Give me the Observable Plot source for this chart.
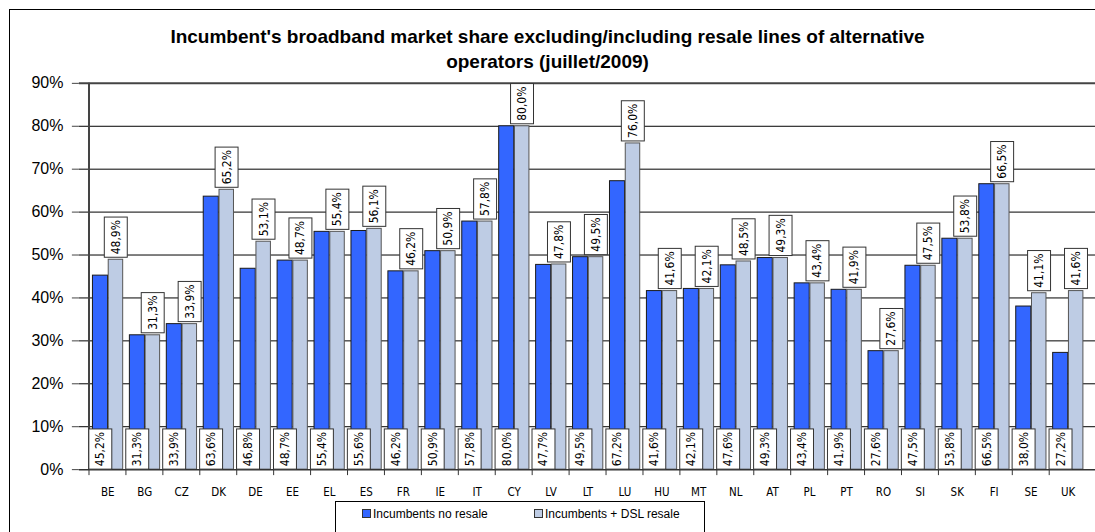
<!DOCTYPE html>
<html>
<head>
<meta charset="utf-8">
<script src="https://cdn.jsdelivr.net/npm/d3@7"></script>
<script src="https://cdn.jsdelivr.net/npm/@observablehq/plot@0.6"></script>
<style>
  html, body { margin: 0; padding: 0; background: #fff; overflow: hidden; }
  #wrap { position: relative; width: 1095px; height: 532px; overflow: hidden; font-family: "Liberation Sans", Arial, sans-serif; }
  #border { position: absolute; left: 9px; top: 9px; width: 1100px; height: 540px; border-left: 1.5px solid #000; border-top: 1.5px solid #000; }
  #title { position: absolute; left: 0; top: 24px; width: 1095px; text-align: center; font-weight: bold; font-size: 19px; line-height: 25px; color: #000; }
  #chart { position: absolute; left: 0; top: 0; }
  #legend { position: absolute; left: 335px; top: 501px; width: 368px; height: 50px; border: 1px solid #000; background: #fff; }
  .item { position: absolute; top: 5px; font-size: 12px; line-height: 14px; white-space: nowrap; }
  .sw { display: inline-block; width: 7px; height: 7px; border: 1px solid #333; margin-right: 2px; vertical-align: 0px; }
</style>
</head>
<body>
<div id="wrap">
  <div id="border"></div>
  <div id="chart"></div>
  <div id="title">Incumbent's broadband market share excluding/including resale lines of alternative<br>operators (juillet/2009)</div>
  <div id="legend"></div>
</div>
<script>
const countries = ["BE","BG","CZ","DK","DE","EE","EL","ES","FR","IE","IT","CY","LV","LT","LU","HU","MT","NL","AT","PL","PT","RO","SI","SK","FI","SE","UK"];
const noResale = [45.2,31.3,33.9,63.6,46.8,48.7,55.4,55.6,46.2,50.9,57.8,80.0,47.7,49.5,67.2,41.6,42.1,47.6,49.3,43.4,41.9,27.6,47.5,53.8,66.5,38.0,27.2];
const withResale = [48.9,31.3,33.9,65.2,53.1,48.7,55.4,56.1,46.2,50.9,57.8,80.0,47.8,49.5,76.0,41.6,42.1,48.5,49.3,43.4,41.9,27.6,47.5,53.8,66.5,41.1,41.6];
const seriesNames = ["Incumbents no resale", "Incumbents + DSL resale"];
const seriesColors = ["#3366FF", "#BECCE4"];
const yTicks = [0,10,20,30,40,50,60,70,80,90];

const rows = countries.map((c, i) => ({country: c, a: noResale[i], b: withResale[i]}));
const fmt = v => v.toFixed(1).replace(".", ",") + "%";

const narrow = "'Liberation Sans Narrow', 'DejaVu Sans Condensed', 'Liberation Sans', sans-serif";
const W = 1097, ML = 79, MR = 0;
const bw = (W - ML - MR) / countries.length;
const blueL = 3.6, blueR = bw - 19.4, lightL = 19.4, lightR = bw - 34.6;
const blueC = (blueL + (bw - blueR)) / 2 - bw / 2;
const lightC = (lightL + (bw - lightR)) / 2 - bw / 2;

const chart = Plot.plot({
  width: W, height: 532,
  marginTop: 83, marginBottom: 62, marginLeft: ML, marginRight: MR,
  x: {domain: countries, padding: 0, label: null},
  y: {domain: [0, 90], label: null},
  style: {fontFamily: "'Liberation Sans', Arial, sans-serif", background: "transparent", color: "#000", overflow: "visible"},
  marks: [
    Plot.ruleY(yTicks.slice(1, -1), {stroke: "#000", strokeWidth: 1, strokeOpacity: 1}),
    Plot.barY(rows, {x: "country", y: "a", fill: seriesColors[0], stroke: "#1a1a1a", strokeWidth: 1, insetLeft: blueL, insetRight: blueR}),
    Plot.barY(rows, {x: "country", y: "b", fill: seriesColors[1], stroke: "#555", strokeWidth: 1, insetLeft: lightL, insetRight: lightR}),
    Plot.ruleY([90], {stroke: "#444", strokeWidth: 2}),
    Plot.ruleY([0], {stroke: "#333", strokeWidth: 1.5}),
    Plot.ruleX([countries[0]], {dx: -bw / 2, stroke: "#444", strokeWidth: 2}),
    Plot.axisY({ticks: yTicks, tickFormat: d => d + "%", tickSize: 7, tickPadding: 9, fontSize: 16, label: null, stroke: "#444"}),
    Plot.axisX({tickSize: 6, tickFormat: () => "", dx: -bw / 2, label: null, stroke: "#333"}),
    Plot.axisX({tickSize: 0, tickPadding: 18, fontSize: 11.5, fontFamily: narrow, label: null}),
    Plot.text(rows, {x: "country", y: 0, text: d => fmt(d.a), rotate: -90, textAnchor: "start", lineAnchor: "middle", dx: blueC, dy: -3.5, fontSize: 12, fontFamily: narrow, fill: "#000"}),
    Plot.text(rows, {x: "country", y: "b", text: d => fmt(d.b), rotate: -90, textAnchor: "start", lineAnchor: "middle", dx: lightC, dy: -5.5, fontSize: 12, fontFamily: narrow, fill: "#000"})
  ]
});
document.getElementById("chart").appendChild(chart);

// boxes behind data labels
const NS = "http://www.w3.org/2000/svg";
chart.querySelectorAll('g[aria-label="text"] text').forEach(t => {
  const b = t.getBBox();
  const r = document.createElementNS(NS, "rect");
  r.setAttribute("x", b.x - 3);
  r.setAttribute("y", b.y + b.height / 2 - 11.5);
  r.setAttribute("width", b.width + 6);
  r.setAttribute("height", 23);
  r.setAttribute("fill", "#fff");
  r.setAttribute("stroke", "#333");
  r.setAttribute("stroke-width", 1);
  const tr = t.getAttribute("transform");
  if (tr) r.setAttribute("transform", tr);
  t.parentNode.insertBefore(r, t);
});

// legend
const legend = document.getElementById("legend");
const legendX = [26, 198];
seriesNames.forEach((name, i) => {
  const it = document.createElement("div");
  it.className = "item";
  it.style.left = legendX[i] + "px";
  it.innerHTML = `<span class="sw" style="background:${seriesColors[i]}"></span>${name}`;
  legend.appendChild(it);
});
</script>
</body>
</html>
